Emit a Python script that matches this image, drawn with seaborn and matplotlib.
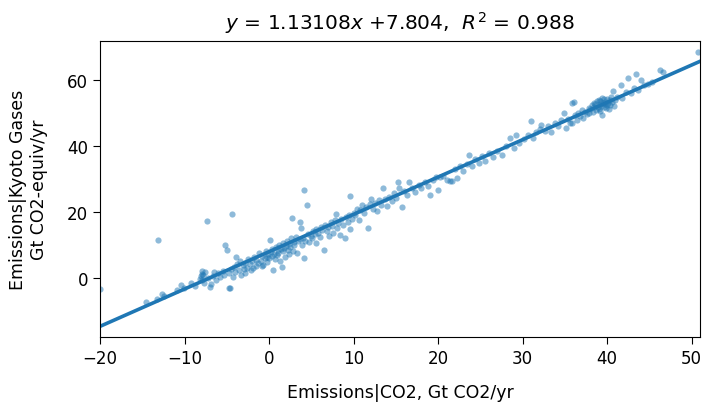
import matplotlib
matplotlib.use("Agg")
import matplotlib.pyplot as plt
import seaborn as sns
import numpy as np
import pandas as pd

co2 = [
    -20.0, -14.6, -13.3, -13.1, -12.7, -12.4, -10.9, -10.4, -10.1,
    -8.2, -8.1, -8.0, -7.9, -7.9, -7.8, -7.7, -7.6, -7.4, -7.2, -7.0, -6.9, -6.6,
    -6.3, -6.0, -5.8, -5.5, -5.2, -5.0, -5.3, -6.5, -9.2, -8.8,
    -4.8, -4.6, -4.4, -4.7, -4.5, -4.3, -4.2, -4.0, -3.8, -3.6, -3.5, -3.3, -3.1,
    -3.0, -2.8, -2.6, -2.5, -2.3, -2.1, -2.0, -1.8, -1.6, -1.5, -1.3, -1.2, -1.0,
    -0.8, -0.7, -0.5, -0.4, -0.3, -0.2, -0.1, -3.9, -2.9, -1.9, -0.9,
    0.0, 0.1, 0.2, 0.3, 0.4, 0.5, 0.6, 0.7, 0.8, 0.9, 1.0, 1.1, 1.2, 1.3, 1.4,
    1.5, 1.6, 1.7, 1.8, 1.9, 2.0, 2.1, 2.2, 2.3, 2.4, 2.5, 2.6, 2.7, 2.8, 2.9,
    3.0, 3.2, 3.3, 3.4, 3.6, 3.7, 3.8, 3.9, 4.0, 4.1, 4.1, 4.3, 4.5, 4.6, 4.7, 4.9,
    5.1, 5.2, 5.4, 5.5, 5.6, 5.8, 6.0, 6.1, 6.3, 6.5, 6.6, 6.8, 7.0, 7.1, 7.3,
    7.5, 7.6, 7.8, 7.9, 8.0, 8.2, 8.4, 8.5, 8.7, 9.0, 9.1, 9.3, 9.5, 9.6, 9.6,
    9.8, 10.0,
    10.2, 10.4, 10.6, 10.8, 11.0, 11.2, 11.5, 11.7, 11.9, 12.1, 12.3, 12.5, 12.8,
    13.0, 13.3, 13.5, 13.7, 14.0, 14.2, 14.5, 14.8,
    15.0, 15.3, 15.4, 15.7, 16.0, 16.3, 16.6, 16.9, 17.3, 17.7, 18.0, 18.4, 18.8,
    19.0, 19.4, 19.8,
    20.0, 20.2, 20.6, 21.0, 21.4, 21.6, 22.0, 22.2, 22.6, 23.0, 23.4, 23.7, 24.0,
    24.4, 24.8,
    25.2, 25.6, 26.0, 26.5, 27.0, 27.6, 28.0, 28.5, 29.0, 29.2, 29.6,
    30.2, 30.6, 31.0, 31.2, 31.6, 32.0, 32.2, 32.6, 33.0, 33.4, 33.8, 34.2, 34.6,
    34.9, 35.1,
    35.4, 35.6, 35.9, 35.9, 36.1, 36.2, 36.4, 36.6, 36.8, 37.0, 37.2, 37.4, 37.6,
    37.8, 37.9,
    38.0, 38.2, 38.3, 38.4, 38.5, 38.6, 38.7, 38.8, 38.9, 39.0, 39.0, 39.1, 39.2,
    39.2, 39.3, 39.4, 39.4, 39.5, 39.6, 39.6, 39.7, 39.8, 39.9, 40.0, 40.0, 40.1,
    40.2, 40.3, 40.4, 40.5, 40.6, 40.7, 40.8, 40.9,
    41.2, 41.6, 41.8, 42.2, 42.5, 42.8, 43.2, 43.4, 43.7, 44.0, 44.4, 44.8, 45.3,
    46.2, 46.6, 50.8,
]

kyoto = [
    -3.4, -7.4, -6.4, 11.4, -4.9, -5.6, -3.9, -2.3, -3.2,
    -0.4, 0.4, 1.2, 2.0, -0.8, 0.8, -1.5, 1.6, 17.2, -0.1, -2.8, -1.8, 0.5,
    -0.6, 1.4, 0.2, 2.0, 9.8, 8.3, 0.9, 1.8, -1.5, -2.6,
    -3.1, -3.1, 19.2, 1.5, 2.6, 0.2, 3.2, 1.8, 4.0, 2.4, 5.1, 0.9, 3.8,
    2.5, 4.6, 3.0, 5.6, 4.1, 2.2, 5.0, 6.4, 3.6, 5.4, 4.5, 7.6, 5.2,
    6.6, 3.9, 5.9, 8.0, 4.8, 6.3, 7.2, 6.2, 1.5, 2.9, 3.6,
    6.1, 11.4, 7.8, 6.7, 8.7, 2.2, 7.3, 5.6, 9.4, 6.9, 8.3, 7.6, 10.0, 5.2, 8.8,
    3.3, 8.0, 10.5, 9.1, 6.4, 9.6, 11.2, 8.5, 7.2, 10.3, 9.2, 12.0, 18.0, 8.2, 10.9,
    9.8, 12.4, 7.5, 11.1, 11.7, 17.0, 15.2, 10.0, 12.2, 26.6, 6.1, 11.2, 22.0, 13.3, 10.8, 12.8,
    12.1, 14.3, 13.4, 10.4, 14.8, 13.7, 12.4, 15.5, 14.5, 8.5, 16.1, 14.2, 15.4, 12.7, 16.9,
    15.7, 13.5, 17.4, 19.2, 15.1, 16.5, 12.9, 17.8, 15.9, 12.2, 18.3, 17.0, 19.1, 24.9, 14.9,
    17.7, 19.6,
    19.0, 21.0, 17.6, 20.5, 22.1, 19.7, 21.4, 15.2, 22.5, 23.9, 21.0, 22.8, 20.4,
    23.5, 22.2, 27.4, 24.0, 21.9, 24.6, 23.3, 25.6,
    24.2, 29.0, 27.4, 21.5, 26.2, 25.0, 29.0, 27.3, 26.0, 28.3, 27.4, 29.0, 28.0,
    25.1, 29.8, 30.6,
    26.6, 30.5, 31.0, 29.6, 29.3, 29.3, 33.0, 30.2, 33.8, 32.5, 34.4, 37.3, 34.0,
    36.0, 35.0,
    36.9, 35.4, 37.8, 36.6, 38.6, 37.3, 40.0, 42.4, 39.3, 43.4, 40.8,
    42.0, 43.5, 47.5, 42.4, 44.2, 45.3, 46.4, 44.6, 46.0, 44.4, 47.0, 46.2, 48.0,
    50.0, 45.4,
    48.2, 47.0, 53.0, 47.0, 53.3, 49.4, 48.0, 50.2, 49.0, 51.0, 48.6, 50.4, 49.6,
    51.6, 50.0,
    51.2, 52.4, 50.5, 53.0, 51.8, 52.8, 50.9, 53.6, 52.0, 54.0, 51.4, 52.9, 53.8,
    50.6, 52.2, 49.5, 54.6, 53.2, 51.9, 54.2, 52.7, 53.5, 51.5, 54.4, 52.4, 53.0,
    51.2, 53.9, 52.6, 54.8, 53.4, 56.6, 52.2, 54.0,
    55.0, 58.6, 54.6, 56.4, 60.7, 56.0, 57.8, 61.9, 57.0, 60.2, 58.6, 59.0, 59.6,
    63.2, 62.6, 68.5,
]

title_text = r"$y$ = 1.13108$x$ +7.804,  $R^2$ = 0.988"
x_label = "Emissions|CO2, Gt CO2/yr"
y_label = "Emissions|Kyoto Gases\nGt CO2-equiv/yr"
x_ticks = [-20, -10, 0, 10, 20, 30, 40, 50]
y_ticks = [0, 20, 40, 60]

n = min(len(co2), len(kyoto))
df = pd.DataFrame({"x": co2[:n], "y": kyoto[:n]})

plt.rcParams["font.family"] = ["DejaVu Sans"]
plt.rcParams["font.size"] = 12

fig = plt.figure(figsize=(7.05, 4.10), dpi=100)
ax = fig.add_axes([0.142, 0.176, 0.851, 0.722])
sns.regplot(data=df, x="x", y="y", ax=ax, ci=None, truncate=False,
            color="#1f77b4",
            scatter_kws={"s": 20, "alpha": 0.5, "linewidths": 0},
            line_kws={"lw": 2.6})
ax.set_xlim(-20, 51)
ax.set_ylim(-18, 72)
ax.set_xticks(x_ticks)
ax.set_yticks(y_ticks)
ax.set_xlabel(x_label, fontsize=12.5, labelpad=12)
ax.set_ylabel(y_label, fontsize=12.5, labelpad=14)
ax.set_title(title_text, fontsize=14.5, pad=9)
ax.tick_params(labelsize=12, length=5)
fig.savefig("out.png", dpi=100)
